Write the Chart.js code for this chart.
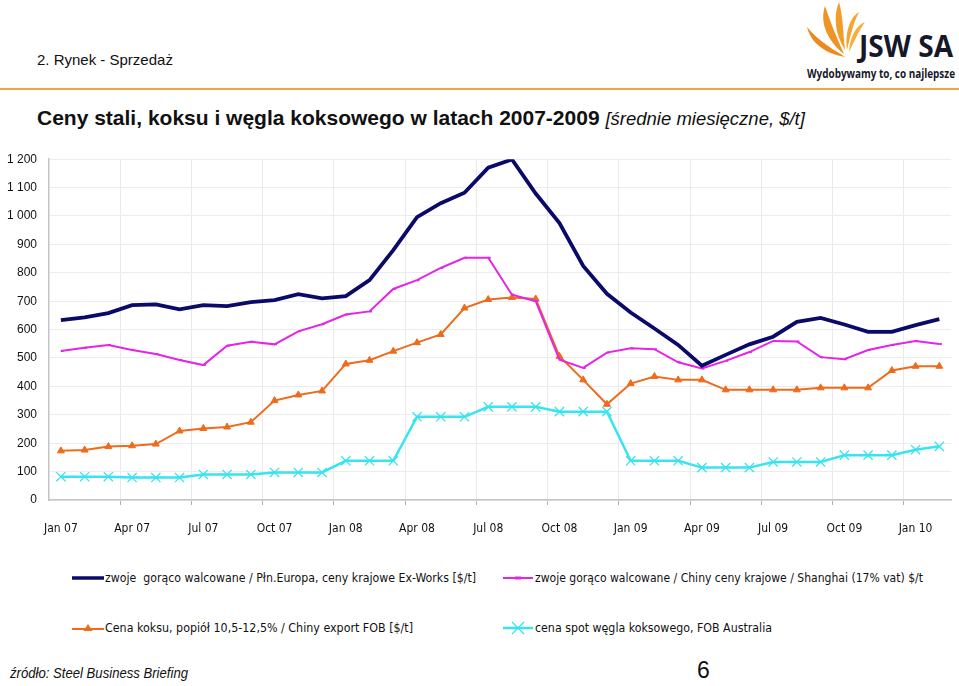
<!DOCTYPE html>
<html>
<head>
<meta charset="utf-8">
<script src="https://cdn.jsdelivr.net/npm/chart.js@4/dist/chart.umd.min.js"></script>
<style>
  body { margin: 0; width: 959px; height: 686px; background: #fff; position: relative; overflow: hidden; font-family: "Liberation Sans", Arial, sans-serif; }
  .abs { position: absolute; white-space: nowrap; transform-origin: left top; }
  #section { left: 37px; top: 51px; font-size: 15px; color: #111; }
  #rule { left: 0; top: 88px; width: 959px; height: 2px; background: #f0a640; }
  #title { left: 37px; top: 106px; font-size: 21px; font-weight: bold; color: #111; }
  #title i { font-weight: normal; font-size: 18.5px; }
  #chartBox { left: 0; top: 140px; width: 959px; height: 405px; }
  .leg { font-family: "DejaVu Sans Condensed", "Liberation Sans", Arial, sans-serif; font-size: 12px; color: #111; }
  #source { left: 10px; top: 665px; font-size: 14px; font-style: italic; color: #111; }
  #page { left: 697px; top: 657px; font-size: 23px; color: #111; }
  #logoText { left: 859px; top: 25px; font-size: 30px; font-weight: bold; color: #16182a; font-family: "Open Sans", "Liberation Sans", sans-serif; }
  #logoSub { left: 807px; top: 65px; font-size: 12px; font-weight: bold; color: #16182a; font-family: "Open Sans", "Liberation Sans", sans-serif; }
</style>
</head>
<body>
<div class="abs" id="section">2. Rynek - Sprzedaż</div>
<div class="abs" id="rule"></div>
<div class="abs" id="title">Ceny stali, koksu i węgla koksowego w latach 2007-2009 <i>[średnie miesięczne, $/t]</i></div>

<svg class="abs" style="left:805px;top:0px" width="60" height="62">
  <path d="M2 27 C6 44 22 54 40 57 C30 50 14 42 2 27 Z" fill="#ec8a1e"/>
  <path d="M20 6 C14 24 24 42 39 54 C32 38 26 24 20 6 Z" fill="#ef9322"/>
  <path d="M34 2 C28 16 30 34 40 50 C38 32 38 16 34 2 Z" fill="#f29c2a"/>
  <path d="M54 12 C44 18 40 34 42 50 C46 34 48 24 54 12 Z" fill="#f4a533"/>
  <path d="M60 22 C50 26 45 38 44 52 C50 40 54 30 60 22 Z" fill="#f6ae3c"/>
</svg>
<div class="abs" id="logoText">JSW SA</div>
<div class="abs" id="logoSub">Wydobywamy to, co najlepsze</div>

<div class="abs" id="chartBox"><canvas id="priceChart" width="959" height="405"></canvas></div>

<svg class="abs" style="left:70px;top:570px" width="36" height="16"><line x1="2" y1="8" x2="34" y2="8" stroke="#0a0a6a" stroke-width="3.5"/></svg>
<div class="abs leg" id="leg1" style="left:105px;top:571px">zwoje&nbsp; gorąco walcowane / Płn.Europa, ceny krajowe Ex-Works [$/t]</div>
<svg class="abs" style="left:500px;top:570px" width="36" height="16"><line x1="3" y1="8" x2="33" y2="8" stroke="#e624e6" stroke-width="2"/><line x1="15" y1="8" x2="21" y2="8" stroke="#e624e6" stroke-width="3"/></svg>
<div class="abs leg" id="leg2" style="left:535px;top:571px">zwoje gorąco walcowane / Chiny ceny krajowe / Shanghai (17% vat) $/t</div>
<svg class="abs" style="left:70px;top:620px" width="36" height="16"><line x1="2" y1="9" x2="34" y2="9" stroke="#ee6b1c" stroke-width="2"/><path d="M18 4 L22.5 11 L13.5 11 Z" fill="#ee6b1c"/></svg>
<div class="abs leg" id="leg3" style="left:105px;top:621px">Cena koksu, popiół 10,5-12,5% / Chiny export FOB [$/t]</div>
<svg class="abs" style="left:500px;top:620px" width="36" height="16"><line x1="3" y1="8" x2="33" y2="8" stroke="#38e4ee" stroke-width="2.5"/><path d="M12 2 L24 14 M24 2 L12 14" stroke="#38e4ee" stroke-width="1.3"/></svg>
<div class="abs leg" id="leg4" style="left:535px;top:621px">cena spot węgla koksowego, FOB Australia</div>

<div class="abs" id="source">źródło: Steel Business Briefing</div>
<div class="abs" id="page">6</div>

<script>
const months = [
  "Jan 07", "Feb 07", "Mar 07", "Apr 07", "May 07", "Jun 07", "Jul 07", "Aug 07", "Sep 07", "Oct 07", "Nov 07", "Dec 07",
  "Jan 08", "Feb 08", "Mar 08", "Apr 08", "May 08", "Jun 08", "Jul 08", "Aug 08", "Sep 08", "Oct 08", "Nov 08", "Dec 08",
  "Jan 09", "Feb 09", "Mar 09", "Apr 09", "May 09", "Jun 09", "Jul 09", "Aug 09", "Sep 09", "Oct 09", "Nov 09", "Dec 09",
  "Jan 10", "Feb 10"
];

// zwoje gorąco walcowane / Płn. Europa
const steelEurope = [633, 643, 658, 686, 689, 671, 686, 683, 697, 704, 725, 710,
  718, 774, 880, 996, 1045, 1082, 1170, 1199, 1079, 975, 824, 726,
  660, 604, 546, 473, 511, 548, 575, 627, 641, 618, 592, 592,
  616, 637];

// zwoje gorąco walcowane / Chiny
const steelChina = [525, 536, 546, 528, 514, 493, 475, 543, 557, 548, 594, 619,
  653, 664, 743, 774, 817, 853, 853, 723, 700, 494, 465, 519,
  534, 531, 485, 463, 490, 521, 560, 558, 503, 496, 528, 546,
  560, 549];

// koks, Chiny export FOB
const coke = [173, 176, 188, 191, 197, 243, 252, 257, 274, 350, 370, 384,
  479, 492, 524, 554, 583, 676, 706, 713, 708, 506, 423, 337,
  410, 435, 423, 423, 388, 388, 388, 388, 395, 395, 395, 456,
  471, 471];

// węgiel koksowy spot, FOB Australia
const coal = [82, 82, 82, 79, 79, 79, 90, 90, 90, 97, 97, 97,
  138, 138, 138, 293, 293, 293, 328, 328, 328, 311, 311, 311,
  138, 138, 138, 114, 114, 114, 134, 134, 134, 158, 158, 158,
  177, 189];

const yMax = 1200;
const yStep = 100;

// squeeze a text block so it spans the width seen in the reference
function fitWidth(id, width) {
  const el = document.getElementById(id);
  const w = el.getBoundingClientRect().width;
  if (w > 0) el.style.transform = `scaleX(${width / w})`;
}

fitWidth("logoText", 94);
fitWidth("logoSub", 148);
fitWidth("source", 178);
fitWidth("leg1", 371);
fitWidth("leg2", 388);
fitWidth("leg3", 308);
fitWidth("leg4", 237);

function spaced(v) {
  return String(v).replace(/\B(?=(\d{3})+(?!\d))/g, " ");
}

function quarterLine(color) {
  return ctx => (ctx.index % 3 === 0 && ctx.index > 0) ? color : "transparent";
}

const ctx = document.getElementById("priceChart").getContext("2d");
new Chart(ctx, {
  type: "line",
  data: {
    labels: months,
    datasets: [
      {
        label: "zwoje gorąco walcowane / Płn.Europa",
        data: steelEurope,
        borderColor: "#0a0a6a",
        borderWidth: 3.8,
        pointRadius: 0,
        tension: 0
      },
      {
        label: "zwoje gorąco walcowane / Chiny",
        data: steelChina,
        borderColor: "#e624e6",
        borderWidth: 2,
        pointStyle: "dash",
        pointRadius: 2.5,
        pointBorderWidth: 2,
        pointBorderColor: "#e624e6",
        tension: 0
      },
      {
        label: "Cena koksu",
        data: coke,
        borderColor: "#ee6b1c",
        backgroundColor: "#ee6b1c",
        borderWidth: 2,
        pointStyle: "triangle",
        pointRadius: 4,
        pointBorderWidth: 1,
        tension: 0
      },
      {
        label: "cena spot węgla koksowego",
        data: coal,
        borderColor: "#38e4ee",
        borderWidth: 2.5,
        pointStyle: "crossRot",
        pointRadius: 6.5,
        pointBorderWidth: 1.3,
        pointBorderColor: "#38e4ee",
        tension: 0
      }
    ]
  },
  options: {
    responsive: false,
    animation: false,
    layout: { padding: { top: 8, right: 6, left: 0, bottom: 0 } },
    plugins: { legend: { display: false }, tooltip: { enabled: false } },
    scales: {
      x: {
        offset: true,
        grid: {
          offset: true,
          color: quarterLine("#e8e8ee"),
          tickColor: quarterLine("#b0b0b0"),
          tickLength: 5
        },
        border: { color: "#c4c4c4", width: 1.5 },
        ticks: {
          autoSkip: false,
          maxRotation: 0,
          padding: 17,
          color: "#111",
          font: { family: "'DejaVu Sans Condensed', 'Liberation Sans', Arial", size: 12 },
          callback: function(value, index) {
            return index % 3 === 0 ? months[index] : "";
          }
        },
        afterFit: scale => { scale.height = 45; }
      },
      y: {
        min: 0,
        max: yMax,
        grid: { color: "#ececf0", drawTicks: false },
        border: { color: "#c4c4c4", width: 1.5 },
        ticks: {
          stepSize: yStep,
          padding: 12,
          color: "#111",
          font: { family: "'Liberation Sans', Arial", size: 12 },
          callback: v => spaced(v)
        },
        afterFit: scale => { scale.width = 49; }
      }
    }
  }
});
</script>
</body>
</html>
